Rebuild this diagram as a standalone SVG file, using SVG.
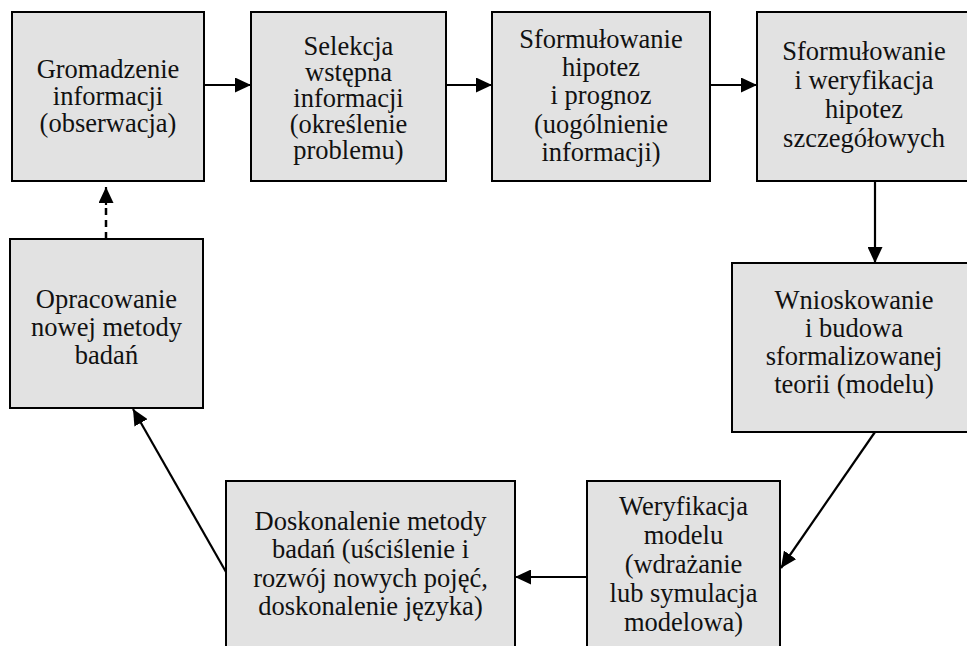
<svg xmlns="http://www.w3.org/2000/svg" width="967" height="646" viewBox="0 0 967 646">
<style>
.box{fill:#e2e2e2;stroke:#000;stroke-width:2}
.t{font-family:"Liberation Serif","Times New Roman",serif;font-size:26.5px;fill:#111;text-anchor:middle}
.c{stroke:#000;stroke-width:2.2;fill:none}
.d{stroke:#000;stroke-width:2.5;fill:none;stroke-dasharray:7 5}
</style>
<defs>
<marker id="ah" viewBox="0 0 16 15" refX="16" refY="7.5" markerWidth="16" markerHeight="15" markerUnits="userSpaceOnUse" orient="auto">
<path d="M0,0 L16,7.5 L0,15 Z" fill="#000"/>
</marker>
</defs>
<rect width="967" height="646" fill="#fff"/>
<g id="n1"><rect class="box" x="12" y="12" width="192" height="169"/>
<text class="t"><tspan x="108" y="78">Gromadzenie</tspan><tspan x="108" y="105">informacji</tspan><tspan x="108" y="132">(obserwacja)</tspan></text></g>
<g id="n2"><rect class="box" x="251" y="12" width="195" height="169"/>
<text class="t"><tspan x="348.5" y="55">Selekcja</tspan><tspan x="348.5" y="81">wstępna</tspan><tspan x="348.5" y="107">informacji</tspan><tspan x="348.5" y="133">(określenie</tspan><tspan x="348.5" y="159">problemu)</tspan></text></g>
<g id="n3"><rect class="box" x="492" y="12" width="218" height="169"/>
<text class="t"><tspan x="601" y="48">Sformułowanie</tspan><tspan x="601" y="76">hipotez</tspan><tspan x="601" y="104">i prognoz</tspan><tspan x="601" y="133">(uogólnienie</tspan><tspan x="601" y="161">informacji)</tspan></text></g>
<g id="n4"><rect class="box" x="757" y="12" width="220" height="169"/>
<text class="t"><tspan x="864" y="60">Sformułowanie</tspan><tspan x="864" y="89">i weryfikacja</tspan><tspan x="864" y="118">hipotez</tspan><tspan x="864" y="147">szczegółowych</tspan></text></g>
<g id="n5"><rect class="box" x="732" y="263" width="245" height="169"/>
<text class="t"><tspan x="854" y="309">Wnioskowanie</tspan><tspan x="854" y="337">i budowa</tspan><tspan x="854" y="365">sformalizowanej</tspan><tspan x="854" y="393">teorii (modelu)</tspan></text></g>
<g id="n6"><rect class="box" x="587" y="481" width="193" height="175"/>
<text class="t"><tspan x="683.5" y="515">Weryfikacja</tspan><tspan x="683.5" y="544">modelu</tspan><tspan x="683.5" y="573">(wdrażanie</tspan><tspan x="683.5" y="602">lub symulacja</tspan><tspan x="683.5" y="631">modelowa)</tspan></text></g>
<g id="n7"><rect class="box" x="226" y="481" width="289" height="175"/>
<text class="t"><tspan x="370.5" y="530">Doskonalenie metody</tspan><tspan x="370.5" y="558">badań (uściślenie i</tspan><tspan x="370.5" y="587">rozwój nowych pojęć,</tspan><tspan x="370.5" y="615">doskonalenie języka)</tspan></text></g>
<g id="n8"><rect class="box" x="10" y="239" width="193" height="169"/>
<text class="t"><tspan x="106.5" y="308">Opracowanie</tspan><tspan x="106.5" y="336">nowej metody</tspan><tspan x="106.5" y="364">badań</tspan></text></g>
<g id="connectors">
<line class="c" x1="204" y1="85" x2="251" y2="85" marker-end="url(#ah)"/>
<line class="c" x1="446" y1="85" x2="492" y2="85" marker-end="url(#ah)"/>
<line class="c" x1="710" y1="85" x2="757" y2="85" marker-end="url(#ah)"/>
<line class="c" x1="875" y1="181" x2="875" y2="263" marker-end="url(#ah)"/>
<line class="c" x1="875" y1="432" x2="781" y2="568" marker-end="url(#ah)"/>
<line class="c" x1="587" y1="577" x2="515" y2="577" marker-end="url(#ah)"/>
<line class="c" x1="226" y1="572" x2="133" y2="409" marker-end="url(#ah)"/>
<line class="d" x1="106" y1="239" x2="106" y2="203"/>
<line class="c" x1="106" y1="205" x2="106" y2="187" marker-end="url(#ah)"/>
</g>
</svg>
